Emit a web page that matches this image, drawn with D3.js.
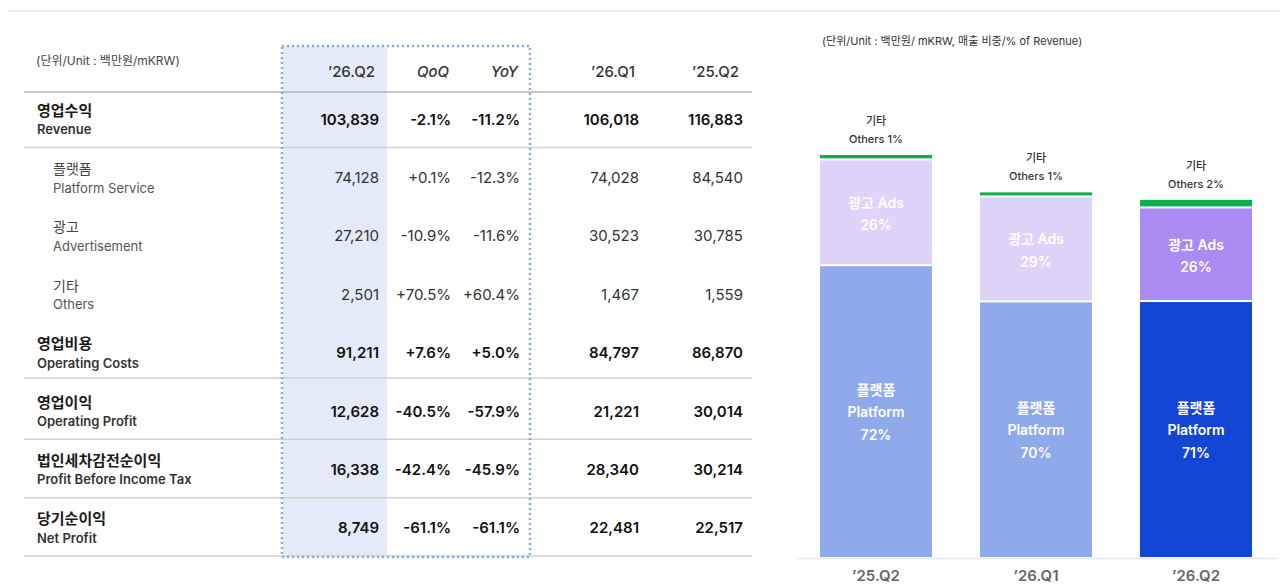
<!DOCTYPE html>
<html>
<head>
<meta charset="utf-8">
<script src="https://cdn.jsdelivr.net/npm/d3@7"></script>
<style>
    body { margin: 0; background: #fff; }
    svg { display: block; font-family: Inter, "Noto Sans CJK KR", sans-serif; }
</style>
</head>
<body>
<svg id="chart" width="1280" height="587"></svg>
<script>
// ---- table data ----
const columns = ["’26.Q2", "QoQ", "YoY", "’26.Q1", "’25.Q2"];
const rowKo = ["영업수익", "플랫폼", "광고", "기타", "영업비용", "영업이익", "법인세차감전순이익", "당기순이익"];
const rowEn = ["Revenue", "Platform Service", "Advertisement", "Others", "Operating Costs", "Operating Profit", "Profit Before Income Tax", "Net Profit"];
const subRow = [false, true, true, true, false, false, false, false];
const q2_26 = [103839, 74128, 27210, 2501, 91211, 12628, 16338, 8749];
const qoq = ["-2.1%", "+0.1%", "-10.9%", "+70.5%", "+7.6%", "-40.5%", "-42.4%", "-61.1%"];
const yoy = ["-11.2%", "-12.3%", "-11.6%", "+60.4%", "+5.0%", "-57.9%", "-45.9%", "-61.1%"];
const q1_26 = [106018, 74028, 30523, 1467, 84797, 21221, 28340, 22481];
const q2_25 = [116883, 84540, 30785, 1559, 86870, 30014, 30214, 22517];

// ---- bar chart data ----
const barQuarters = ["’25.Q2", "’26.Q1", "’26.Q2"];
const platform = [84540, 74028, 74128];
const ads = [30785, 30523, 27210];
const others = [1559, 1467, 2501];

const svg = d3.select("#chart");
const fmt = d3.format(",");

// top rule
svg.append("line")
    .attr("x1", 8).attr("x2", 1280)
    .attr("y1", 11).attr("y2", 11)
    .attr("stroke", "#ededed")
    .attr("stroke-width", 2);

// ================= TABLE =================
const table = { left: 24, right: 752, top: 46, head: 92, bottom: 556 };

let y = d3.scaleBand()
    .domain(rowKo)
    .range([89, table.bottom]);

let colX = d3.scaleOrdinal()
    .domain(columns)
    .range([379, 451, 520, 639, 743]);

// highlighted current quarter column
svg.append("rect")
    .attr("x", 283).attr("y", table.top)
    .attr("width", 104)
    .attr("height", table.bottom - table.top)
    .attr("fill", "#e3ebf8");

// unit text
svg.append("text")
    .attr("x", 36).attr("y", 60)
    .attr("dominant-baseline", "central")
    .style("font-size", "12px")
    .style("fill", "#444")
    .text("(단위/Unit : 백만원/mKRW)");

// header labels
svg.selectAll(".col-head")
    .data(columns)
    .enter()
    .append("text")
    .attr("class", "col-head")
    .attr("x", (d, i) => colX(d) - (i === 1 || i === 2 ? 2 : 4))
    .attr("y", 71)
    .attr("text-anchor", "end")
    .attr("dominant-baseline", "central")
    .style("font-size", "15px")
    .style("font-weight", "500")
    .style("font-style", (d, i) => (i === 1 || i === 2) ? "italic" : "normal")
    .style("fill", "#333")
    .text(d => d);

// header rule
svg.append("line")
    .attr("x1", table.left).attr("x2", table.right)
    .attr("y1", table.head).attr("y2", table.head)
    .attr("stroke", "#b4b4b4")
    .attr("stroke-width", 1.5);

// row rules under main rows
svg.selectAll(".row-rule")
    .data(rowKo.filter((d, i) => !subRow[i] && !(i < rowKo.length - 1 && subRow[i + 1] && i > 0)))
    .enter()
    .append("line")
    .attr("class", "row-rule")
    .attr("x1", table.left).attr("x2", table.right)
    .attr("y1", d => y(d) + y.bandwidth() - (d === "영업비용" ? 3 : 0))
    .attr("y2", d => y(d) + y.bandwidth() - (d === "영업비용" ? 3 : 0))
    .attr("stroke", "#d0d0d0")
    .attr("stroke-width", 1.5);

// row labels and values
const rows = rowKo.map((ko, i) => ({
    ko: ko,
    en: rowEn[i],
    sub: subRow[i],
    vals: [fmt(q2_26[i]), qoq[i], yoy[i], fmt(q1_26[i]), fmt(q2_25[i])]
}));

let rowG = svg.selectAll(".row")
    .data(rows)
    .enter()
    .append("g")
    .attr("class", "row")
    .attr("transform", d => `translate(0, ${y(d.ko) + y.bandwidth() / 2 + 1})`);

rowG.append("text")
    .attr("x", d => d.sub ? 53 : 37)
    .attr("y", -9)
    .attr("dominant-baseline", "central")
    .style("font-size", d => d.sub ? "14px" : "15px")
    .style("font-weight", d => d.sub ? "400" : "700")
    .style("fill", d => d.sub ? "#444" : "#1a1a1a")
    .text(d => d.ko);

rowG.append("text")
    .attr("x", d => d.sub ? 53 : 37)
    .attr("y", 10)
    .attr("dominant-baseline", "central")
    .style("font-size", "13px")
    .style("font-weight", d => d.sub ? "400" : "600")
    .style("fill", d => d.sub ? "#555" : "#333")
    .text(d => d.en);

rowG.selectAll(".val")
    .data(d => d.vals.map((v, j) => ({ v: v, col: columns[j], sub: d.sub })))
    .enter()
    .append("text")
    .attr("class", "val")
    .attr("x", d => colX(d.col))
    .attr("y", 0)
    .attr("text-anchor", "end")
    .attr("dominant-baseline", "central")
    .style("font-size", "15px")
    .style("font-weight", d => d.sub ? "400" : "600")
    .style("fill", d => d.sub ? "#333" : "#111")
    .text(d => d.v);

// dotted frame around current quarter + growth columns
svg.append("rect")
    .attr("x", 282).attr("y", 46)
    .attr("width", 248).attr("height", 511)
    .attr("fill", "none")
    .attr("stroke", "#84a9dc")
    .attr("stroke-width", 2.5)
    .attr("stroke-dasharray", "2,3");

// ================= STACKED BARS =================
const chart = { left: 796, right: 1276, base: 557, top: 155 };

let x = d3.scaleBand()
    .domain(barQuarters)
    .range([chart.left, chart.right])
    .paddingInner(0.3)
    .paddingOuter(0.15);

let totals = barQuarters.map((q, i) => platform[i] + ads[i] + others[i]);

let yBar = d3.scaleLinear()
    .domain([0, d3.max(totals)])
    .range([chart.base, chart.top]);

svg.append("text")
    .attr("x", 822).attr("y", 41)
    .attr("dominant-baseline", "central")
    .style("font-size", "11px")
    .style("fill", "#333")
    .text("(단위/Unit : 백만원/ mKRW, 매출 비중/% of Revenue)");

const platformColor = ["#8eaaeb", "#8eaaeb", "#1346d6"];
const adsColor = ["#ded3f8", "#ded3f8", "#a98bf1"];
const pct = (v, i) => Math.round(v / totals[i] * 100) + "%";

let bars = barQuarters.map((q, i) => ({
    q: q, i: i,
    p: platform[i], a: ads[i], o: others[i], total: totals[i]
}));

let barG = svg.selectAll(".bar")
    .data(bars)
    .enter()
    .append("g")
    .attr("class", "bar");

// platform segment
barG.append("rect")
    .attr("x", d => x(d.q))
    .attr("width", x.bandwidth())
    .attr("y", d => yBar(d.p))
    .attr("height", d => yBar(0) - yBar(d.p))
    .attr("fill", d => platformColor[d.i]);

// ads segment
barG.append("rect")
    .attr("x", d => x(d.q))
    .attr("width", x.bandwidth())
    .attr("y", d => yBar(d.p + d.a))
    .attr("height", d => yBar(d.p) - yBar(d.p + d.a) - 2)
    .attr("fill", d => adsColor[d.i]);

// others segment
barG.append("rect")
    .attr("x", d => x(d.q))
    .attr("width", x.bandwidth())
    .attr("y", d => yBar(d.total))
    .attr("height", d => Math.max(yBar(d.p + d.a) - yBar(d.total) - 2, 2))
    .attr("fill", "#0db04b");

// segment labels
barG.each(function (d) {
    let g = d3.select(this);
    let cx = x(d.q) + x.bandwidth() / 2;
    let pc = (yBar(0) + yBar(d.p)) / 2;
    let ac = (yBar(d.p) + yBar(d.p + d.a)) / 2;

    let pLines = ["플랫폼", "Platform", pct(d.p, d.i)];
    g.selectAll(".plab")
        .data(pLines)
        .enter()
        .append("text")
        .attr("class", "plab")
        .attr("x", cx)
        .attr("y", (t, k) => pc + (k - 1) * 22.5)
        .attr("text-anchor", "middle")
        .attr("dominant-baseline", "central")
        .style("font-size", "14px")
        .style("font-weight", "600")
        .style("fill", "#fff")
        .text(t => t);

    let aLines = ["광고 Ads", pct(d.a, d.i)];
    g.selectAll(".alab")
        .data(aLines)
        .enter()
        .append("text")
        .attr("class", "alab")
        .attr("x", cx)
        .attr("y", (t, k) => ac + (k - 0.5) * 22.5)
        .attr("text-anchor", "middle")
        .attr("dominant-baseline", "central")
        .style("font-size", "14px")
        .style("font-weight", "600")
        .style("fill", "#fff")
        .text(t => t);

    let oLines = ["기타", "Others " + pct(d.o, d.i)];
    g.selectAll(".olab")
        .data(oLines)
        .enter()
        .append("text")
        .attr("class", "olab")
        .attr("x", cx)
        .attr("y", (t, k) => yBar(d.total) - 34 + k * 18)
        .attr("text-anchor", "middle")
        .attr("dominant-baseline", "central")
        .style("font-size", "11px")
        .style("font-weight", "500")
        .style("fill", "#333")
        .text(t => t);
});

// x axis
let xAxis = d3.axisBottom(x).tickSize(0).tickPadding(12);
let xAxisG = svg.append("g")
    .attr("class", "x-axis")
    .attr("transform", `translate(0, ${chart.base + 1})`)
    .call(xAxis);

xAxisG.select(".domain")
    .attr("stroke", "#e6e6e6")
    .attr("stroke-width", 1.5);

xAxisG.selectAll("text")
    .style("font-family", "Inter, 'Noto Sans CJK KR', sans-serif")
    .style("font-size", "15px")
    .style("font-weight", "600")
    .style("fill", "#666");
</script>
</body>
</html>
